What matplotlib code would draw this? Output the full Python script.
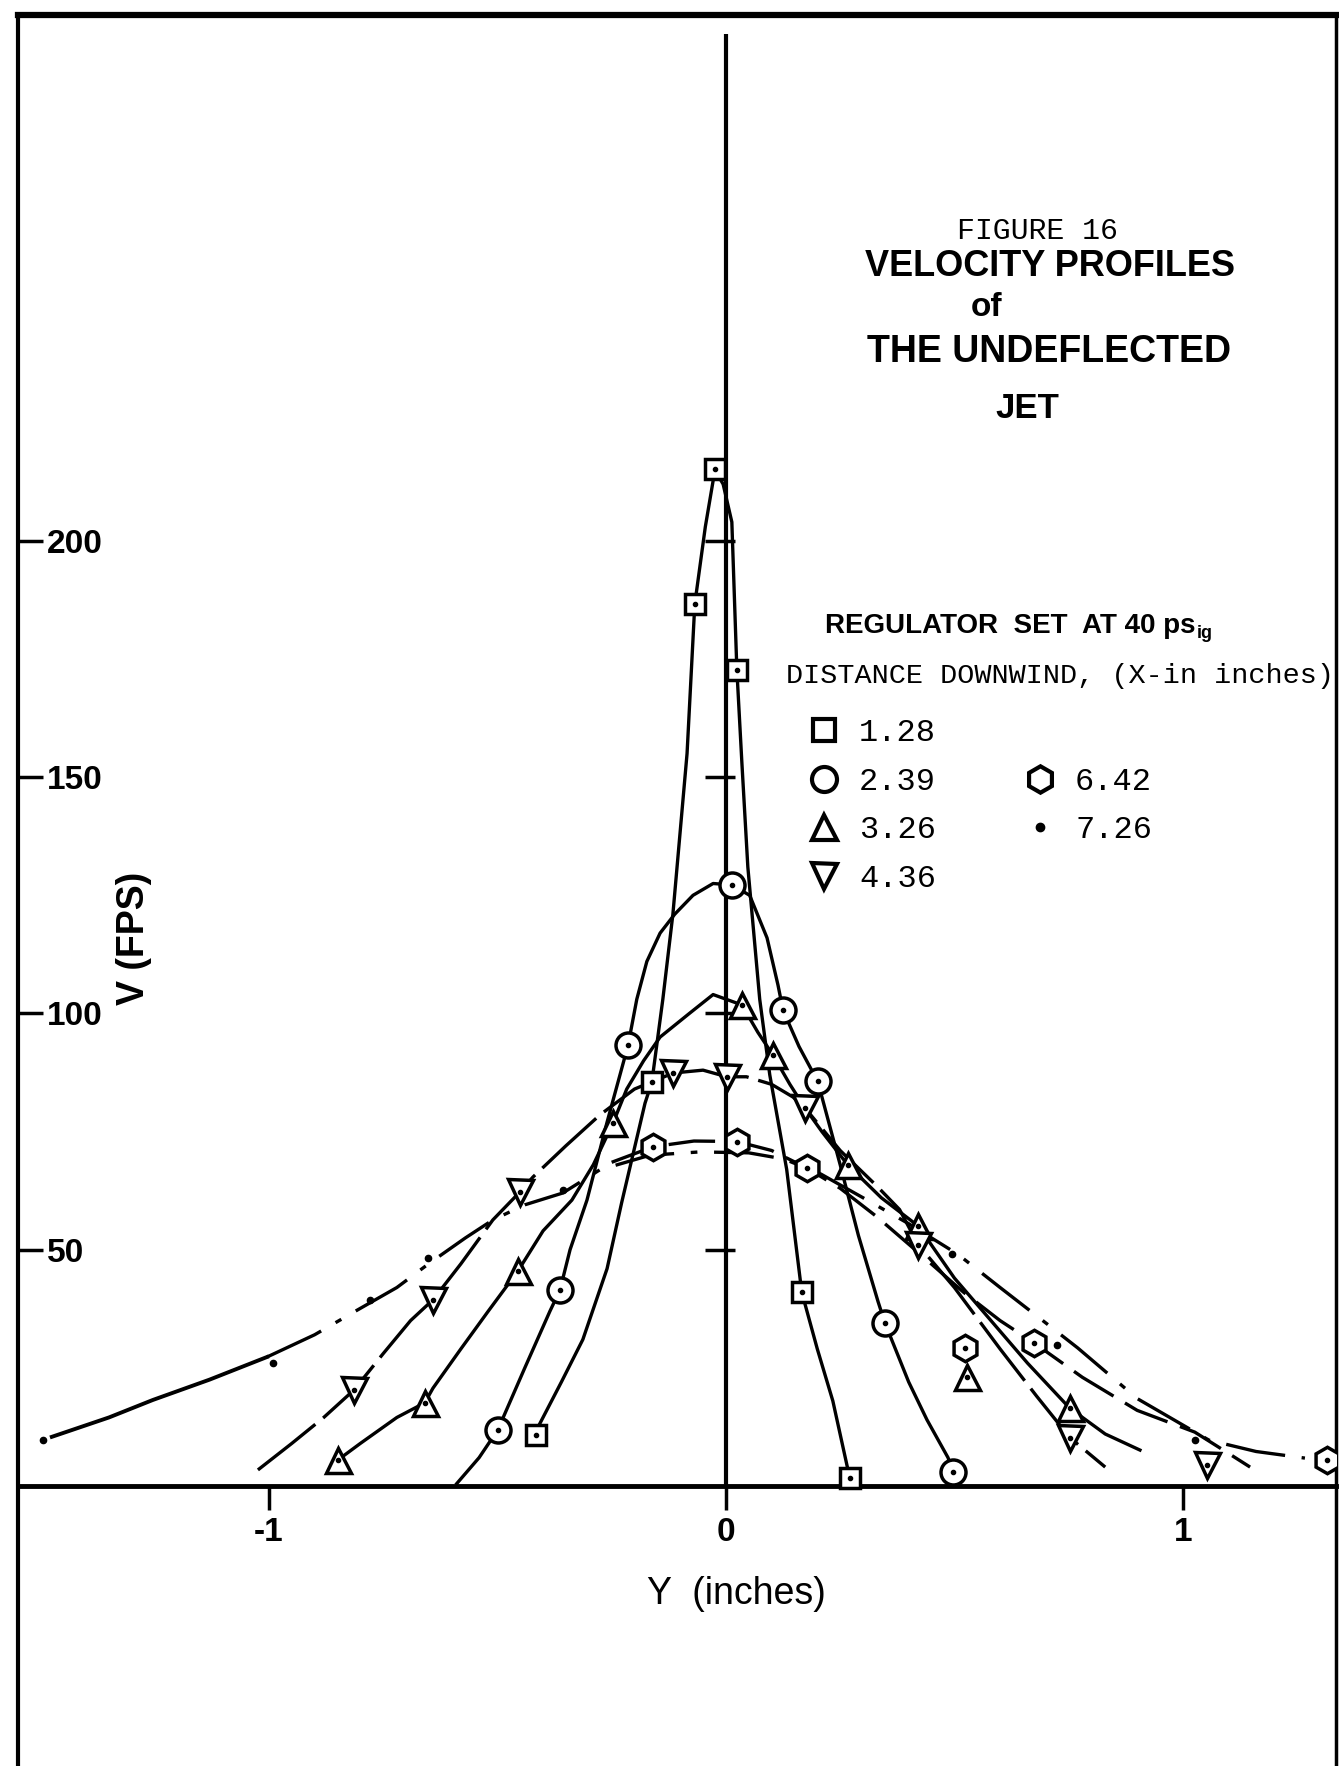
import matplotlib
matplotlib.use('Agg')
import matplotlib.pyplot as plt
from matplotlib.lines import Line2D

LETTER = 'Liberation Sans'
MONO = 'Liberation Mono'

# ---- data (Y in inches, V in fps) ----
# measured points
sq_y = [-0.416, -0.162, -0.068, -0.024, 0.024, 0.166, 0.271]
sq_v = [10.8, 85.5, 186.7, 215.2, 172.7, 41.0, 1.7]

circ_y = [-0.499, -0.363, -0.214, 0.013, 0.125, 0.201, 0.348, 0.497]
circ_v = [11.9, 41.5, 93.3, 127.2, 100.7, 85.6, 34.5, 3.0]

tup_y = [-0.849, -0.659, -0.455, -0.247, 0.035, 0.103, 0.267, 0.421, 0.527, 0.752]
tup_v = [5.5, 17.6, 45.5, 76.8, 101.8, 91.2, 67.9, 55.0, 23.1, 16.5]

tdn_y = [-0.814, -0.641, -0.451, -0.115, 0.002, 0.173, 0.421, 0.753, 1.053]
tdn_v = [20.3, 39.4, 62.2, 87.4, 86.6, 80.0, 51.0, 10.2, 4.5]

hex_y = [-0.159, 0.024, 0.177, 0.523, 0.674, 1.316]
hex_v = [71.8, 72.9, 67.3, 29.2, 30.3, 5.5]

dot_y = [-1.494, -0.991, -0.778, -0.651, -0.357, 0.495, 0.724, 1.026]
dot_v = [9.7, 26.0, 39.4, 48.2, 62.6, 49.0, 29.8, 9.7]

# hand-drawn profile curves
c128_y = [-0.42, -0.36, -0.313, -0.26, -0.228, -0.177, -0.162, -0.138, -0.116, -0.085, -0.068,
          -0.045, -0.024, -0.006, 0.013, 0.024, 0.035, 0.048, 0.074, 0.096, 0.133, 0.166, 0.20,
          0.234, 0.271]
c128_v = [10.8, 22, 31, 46, 60, 81, 85.5, 103, 121, 155, 186.7, 203, 215, 212, 204, 172.7, 153,
          131, 103, 87, 67, 41, 29, 18, 1.7]

c239_y = [-0.589, -0.54, -0.499, -0.44, -0.385, -0.363, -0.341, -0.304, -0.26, -0.214, -0.195,
          -0.173, -0.144, -0.112, -0.072, -0.028, 0.013, 0.052, 0.09, 0.114, 0.125, 0.16, 0.201,
          0.25, 0.29, 0.333, 0.348, 0.40, 0.44, 0.486, 0.497]
c239_v = [0.5, 6, 11.9, 25, 37, 41.5, 50, 60.5, 77, 93.3, 103, 111, 117, 121, 125, 127.5, 127.2,
          125, 116, 106, 100.7, 93, 85.6, 68, 53, 39, 34.5, 22, 14, 6, 3]

c326_y = [-0.849, -0.80, -0.72, -0.659, -0.641, -0.58, -0.52, -0.455, -0.40, -0.337, -0.29, -0.247,
          -0.217, -0.18, -0.144, -0.08, -0.028, 0.035, 0.07, 0.103, 0.14, 0.173, 0.21, 0.267, 0.34,
          0.421, 0.5, 0.58, 0.66, 0.752, 0.83, 0.906]
c326_v = [5.5, 9, 14.5, 17.6, 20.7, 29, 37, 45.5, 54, 60.5, 68, 76.8, 84, 90, 95, 100, 104, 101.8,
          96, 91.2, 85, 80, 75, 67.9, 61, 55, 44, 35, 26, 16.5, 11, 7.6]

c436_y = [-1.024, -0.95, -0.88, -0.814, -0.75, -0.69, -0.641, -0.58, -0.51, -0.451, -0.422, -0.35,
          -0.276, -0.2, -0.115, -0.05, 0.002, 0.045, 0.1, 0.147, 0.173, 0.25, 0.33, 0.38, 0.421,
          0.5, 0.6, 0.68, 0.753, 0.83]
c436_v = [3.4, 9, 14.5, 20.3, 28, 35, 39.4, 47, 56.3, 62.2, 65.4, 72, 78.5, 84, 87.4, 88, 86.6,
          86.6, 85, 82.3, 80, 71, 63.5, 58.5, 51, 42, 29, 19, 10.2, 4]

c642_y = [-0.25, -0.159, -0.07, 0.024, 0.1, 0.177, 0.25, 0.33, 0.42, 0.52, 0.6, 0.674, 0.78, 0.9,
          1.026, 1.09, 1.147]
c642_v = [68.5, 71.8, 73, 72.9, 71, 67.3, 63, 57, 49.5, 41, 35, 30.3, 23, 16, 11.4, 7.5, 4]

c726_y = [-1.475, -1.35, -1.254, -1.13, -1.004, -0.9, -0.807, -0.72, -0.648, -0.57, -0.51, -0.44,
          -0.357, -0.276, -0.166, -0.057, 0.05, 0.127, 0.208, 0.3, 0.4, 0.508, 0.6, 0.7, 0.77, 0.9,
          1.057, 1.16, 1.267]
c726_v = [10.4, 14.5, 18.2, 22.5, 27.3, 32, 37.2, 42, 47.2, 52.5, 56.3, 59.5, 62, 66.9, 70, 70.7,
          70.5, 69.2, 66, 61, 55.5, 49, 42, 34.5, 29.2, 18.5, 9.7, 7.3, 5.9]
c726_solid = 5  # the far-left part of this curve is drawn solid

y_ticks = [50, 100, 150, 200]
x_ticks = [-1, 0, 1]
x_ticklabels = ['-1', '0', '1']
legend_labels = ['1.28', '2.39', '3.26', '4.36', '6.42', '7.26']

# ---- figure ----
W, H = 1339, 1766
fig = plt.figure(figsize=(W / 100, H / 100), dpi=100)
ax = fig.add_axes([18 / W, 0, (1336 - 18) / W, 1 - 15 / H])
ax.set_xlim(-1.549, 1.335)
ax.set_ylim(-59.26, 311.3)

ax.spines['left'].set_linewidth(3)
ax.spines['right'].set_linewidth(2.5)
ax.spines['top'].set_linewidth(4.5)
ax.spines['bottom'].set_position(('data', 0))
ax.spines['bottom'].set_linewidth(3.5)

ax.set_yticks(y_ticks)
ax.set_yticklabels([str(t) for t in y_ticks])
ax.tick_params(axis='y', direction='in', length=18, width=2.5, pad=-21,
               labelsize=24, labelfontfamily=LETTER)
for lab in ax.get_yticklabels():
    lab.set_horizontalalignment('left')
    lab.set_fontweight('bold')

ax.set_xticks(x_ticks)
ax.set_xticklabels(x_ticklabels)
ax.tick_params(axis='x', direction='out', length=17, width=2.5, pad=5,
               labelsize=24, labelfontfamily=LETTER)
for lab in ax.get_xticklabels():
    lab.set_fontweight('bold')

# centre line with its own ticks
ax.vlines(0, 0, 307.3, color='k', lw=3)
ax.hlines(y_ticks, -0.045, 0.02, color='k', lw=2.5)

# curves
lw = 2.4
ax.plot(c128_y, c128_v, color='k', lw=lw, zorder=3)
ax.plot(c239_y, c239_v, color='k', lw=lw, zorder=3)
ax.plot(c326_y, c326_v, color='k', lw=lw, zorder=3)
ax.plot(c436_y, c436_v, color='k', lw=lw, zorder=3, dashes=(22, 3))
ax.plot(c642_y, c642_v, color='k', lw=lw, zorder=3, dashes=(14, 4))
ax.plot(c726_y[:c726_solid], c726_v[:c726_solid], color='k', lw=2.8, zorder=3)
ax.plot(c726_y[c726_solid - 1:], c726_v[c726_solid - 1:], color='k', lw=lw, zorder=3,
        dashes=(18, 5, 2, 5))

# markers (open, with a centre dot)
mk = dict(ls='none', mfc='white', mec='k', mew=2.5, zorder=4)
ax.plot(sq_y, sq_v, marker='s', ms=15, **mk)
ax.plot(circ_y, circ_v, marker='o', ms=18, **mk)
ax.plot(tup_y, tup_v, marker='^', ms=18, **mk)
ax.plot(tdn_y, tdn_v, marker='v', ms=18, **mk)
ax.plot(hex_y, hex_v, marker='h', ms=19, **mk)
for yy, vv in [(sq_y, sq_v), (circ_y, circ_v), (tup_y, tup_v), (tdn_y, tdn_v), (hex_y, hex_v)]:
    ax.plot(yy, vv, ls='none', marker='o', ms=3, color='k', zorder=5)
ax.plot(dot_y, dot_v, ls='none', marker='o', ms=4.5, color='k', zorder=5)

# legend: two columns, second one starts on the second row
lg = dict(ls='none', mfc='white', mec='k', mew=3)
blank = Line2D([], [], ls='none')
handles = [Line2D([], [], marker='s', ms=16, **lg),
           Line2D([], [], marker='o', ms=18, **lg),
           Line2D([], [], marker='^', ms=18, **lg),
           Line2D([], [], marker='v', ms=18, **lg),
           blank,
           Line2D([], [], marker='h', ms=19, **lg),
           Line2D([], [], marker='o', ms=6, ls='none', color='k'),
           blank]
labels = legend_labels[:4] + [''] + legend_labels[4:] + ['']
ax.legend(handles, labels, ncol=2, loc='upper left',
          bbox_to_anchor=(808 / W, 1 - 718 / H), bbox_transform=fig.transFigure,
          frameon=False, prop={'family': MONO, 'size': 23},
          handlelength=1.0, handletextpad=0.6, columnspacing=2.75,
          labelspacing=0.585, borderpad=0, borderaxespad=0)

# titles and labels
def ftext(x, y, s, **kw):
    return fig.text(x / W, 1 - y / H, s, **kw)

ftext(1037, 231, 'FIGURE 16', family=MONO, fontsize=21.5, ha='center', va='center')
ftext(1050, 266, 'VELOCITY PROFILES', family=LETTER, fontweight='bold', fontsize=26,
      ha='center', va='center')
ftext(987, 308, 'of', family=LETTER, fontweight='bold', fontsize=24, ha='center', va='center')
ftext(1049, 352, 'THE UNDEFLECTED', family=LETTER, fontweight='bold', fontsize=27,
      ha='center', va='center')
ftext(1027, 408, 'JET', family=LETTER, fontweight='bold', fontsize=25, ha='center', va='center')

reg = ftext(825, 626, 'REGULATOR  SET  AT 40 ps', family=LETTER, fontweight='bold',
            fontsize=20, ha='left', va='center')
bb = reg.get_window_extent(renderer=fig.canvas.get_renderer())
fig.text((bb.x1 + 1) / W, 1 - 634 / H, 'ig', family=LETTER, fontweight='bold', fontsize=13,
         ha='left', va='center')
ftext(786, 676, 'DISTANCE DOWNWIND, (X-in inches)', family=MONO, fontsize=20.5,
      ha='left', va='center')

ftext(134, 938, 'V (FPS)', family=LETTER, fontweight='bold', fontsize=27, rotation=90,
      ha='center', va='center')
ftext(736, 1594, 'Y  (inches)', family=LETTER, fontsize=27, ha='center', va='center')

fig.savefig('out.png', dpi=100)
